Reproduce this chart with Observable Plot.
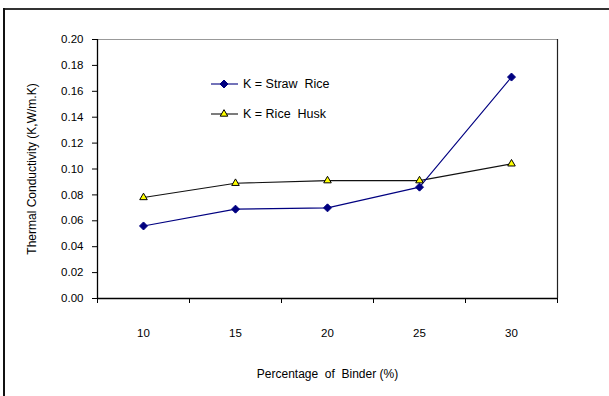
<!DOCTYPE html>
<html><head><meta charset="utf-8">
<script src="https://cdn.jsdelivr.net/npm/d3@7"></script>
<script src="https://cdn.jsdelivr.net/npm/@observablehq/plot@0.6"></script>
<style>
html,body{margin:0;padding:0;background:#fff}
#wrap{position:relative;width:609px;height:396px;overflow:hidden}
#chart{position:absolute;left:0;top:0}
#topline{position:absolute;left:3px;top:8px;width:606px;height:2px;background:#333;z-index:5}
#leftline{position:absolute;left:3px;top:8px;width:2px;height:388px;background:#111;z-index:5}
svg{display:block}
svg text{white-space:pre}
</style>
</head><body><div id="wrap"><div id="chart"></div><div id="topline"></div><div id="leftline"></div></div>
<script>
const binder = [10, 15, 20, 25, 30];
const strawRice = [0.056, 0.069, 0.070, 0.086, 0.171];
const riceHusk = [0.078, 0.089, 0.091, 0.091, 0.104];
const yTicks = [0, 0.02, 0.04, 0.06, 0.08, 0.10, 0.12, 0.14, 0.16, 0.18, 0.20];
const xBoundaries = [7.5, 12.5, 17.5, 22.5, 27.5, 32.5];
const seriesNames = ["K = Straw  Rice", "K = Rice  Husk"];
const yTitle = "Thermal Conductivity (K,W/m.K)";
const xTitle = "Percentage  of  Binder (%)";

const straw = binder.map((b, i) => ({binder: b, k: strawRice[i], series: seriesNames[0]}));
const husk = binder.map((b, i) => ({binder: b, k: riceHusk[i], series: seriesNames[1]}));

const NAVY = "#000080";
const font = "'Liberation Sans', Arial, sans-serif";

const plot = Plot.plot({
  width: 609, height: 396,
  marginLeft: 97, marginRight: 52, marginTop: 39, marginBottom: 98,
  style: {fontFamily: font, fontSize: "11.5px", color: "#000", background: "#fff", overflow: "visible"},
  x: {domain: [7.5, 32.5]},
  y: {domain: [0, 0.2]},
  marks: [
    Plot.ruleY([0.2], {stroke: "#999", strokeWidth: 1}),
    Plot.ruleX([32.5], {stroke: "#222", strokeWidth: 1.2}),
    Plot.axisY({ticks: yTicks, tickFormat: d3.format(".2f"), tickSize: 5, tickPadding: 9, label: null}),
    Plot.axisX({ticks: xBoundaries, tickFormat: () => "", tickSize: 5, label: null}),
    Plot.axisX({ticks: binder, tickFormat: d => String(d), tickSize: 0, tickPadding: 30, label: null}),
    Plot.ruleX([7.5], {stroke: "#000", strokeWidth: 1.3}),
    Plot.ruleY([0], {stroke: "#000", strokeWidth: 1.3}),
    Plot.text([yTitle], {frameAnchor: "left", dx: -65, rotate: -90, textAnchor: "middle", lineAnchor: "middle", fontSize: 12}),
    Plot.text([xTitle], {frameAnchor: "bottom", dy: 76, textAnchor: "middle", lineAnchor: "middle", fontSize: 12}),
    Plot.line(husk, {x: "binder", y: "k", stroke: "#111", strokeWidth: 1.1}),
    Plot.line(straw, {x: "binder", y: "k", stroke: NAVY, strokeWidth: 1.1}),
    Plot.dot(husk, {x: "binder", y: "k", symbol: "triangle2", r: 3.6, fill: "#ffff00", stroke: "#000", strokeWidth: 1}),
    Plot.dot(straw, {x: "binder", y: "k", symbol: "diamond2", r: 3.6, fill: NAVY, stroke: NAVY, strokeWidth: 1})
  ]
});

const svg = d3.select(plot);
// legend
const legendItems = [
  {name: seriesNames[0], color: NAVY, symbol: d3.symbolDiamond2, fill: NAVY, stroke: NAVY, y: 84},
  {name: seriesNames[1], color: "#111", symbol: d3.symbolTriangle2, fill: "#ffff00", stroke: "#000", y: 114}
];
const lg = svg.append("g").attr("text-anchor", "start");
legendItems.forEach(it => {
  lg.append("line").attr("x1", 211).attr("x2", 238).attr("y1", it.y).attr("y2", it.y).attr("stroke", it.color).attr("stroke-width", 1.1);
  lg.append("path").attr("d", d3.symbol(it.symbol, Math.PI * 3.6 * 3.6)()).attr("transform", `translate(224,${it.y})`)
    .attr("fill", it.fill).attr("stroke", it.stroke);
  lg.append("text").attr("x", 243).attr("y", it.y).attr("dy", "0.35em").attr("font-size", 12.5).attr("font-family", font)
    .attr("text-anchor", "start").style("white-space", "pre").text(it.name);
});

document.getElementById("chart").appendChild(plot);
</script>
</body></html>
